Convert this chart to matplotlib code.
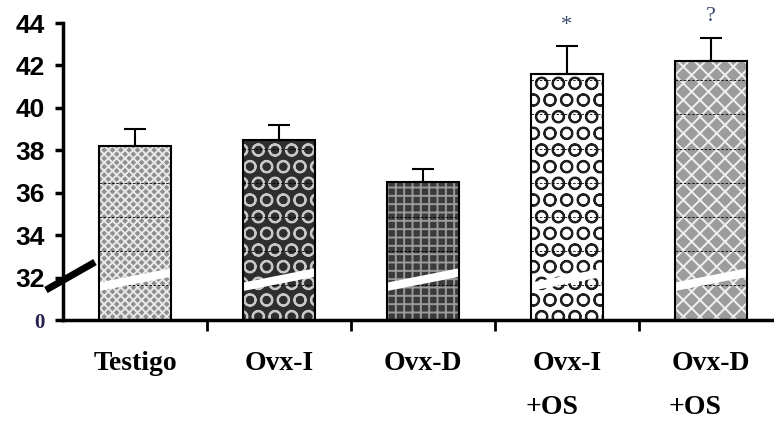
import matplotlib.pyplot as plt
import numpy as np

# data (display scale: the axis is broken, 0 sits at 30)
groups = ["Testigo", "Ovx-I", "Ovx-D", "Ovx-I\n+OS", "Ovx-D\n+OS"]
values = [38.2, 38.5, 36.5, 41.6, 42.2]
errors = [0.8, 0.7, 0.6, 1.3, 1.1]
marks = ["", "", "", "*", "?"]
ytick_vals = [30, 32, 34, 36, 38, 40, 42, 44]
ytick_labels = ["0", "32", "34", "36", "38", "40", "42", "44"]

faces = ["#8e8e8e", "#2e2e2e", "#3a3a3a", "#ffffff", "#9c9c9c"]
hatch_cols = ["#e8e8e8", "#c8c8c8", "#9a9a9a", "#202020", "#f0f0f0"]
hatches = ["xxxx", "O", "++", "O", "/\\/\\"]

plt.rcParams["hatch.linewidth"] = 1.4

fig = plt.figure(figsize=(7.74, 4.22), dpi=100)
ax = fig.add_axes([63 / 774, 102 / 422, 711 / 774, 297 / 422])

x = np.arange(len(groups))
w = 0.5
base = 30

# filled + hatched bars, then outline on top
for i in range(len(groups)):
    ax.bar(x[i], values[i] - base, bottom=base, width=w, color=faces[i],
           edgecolor=hatch_cols[i], hatch=hatches[i], linewidth=0, zorder=2)
    # faint dashed lines inside the bars
    lv = np.arange(31.64, values[i] - 0.3, 1.61)
    ax.hlines(lv, x[i] - w / 2, x[i] + w / 2, colors="black",
              linestyles=(0, (3, 2)), linewidth=0.6, zorder=3)
    # white break band
    xl, xr = x[i] - w / 2 - 0.01, x[i] + w / 2 + 0.01
    ax.fill([xl, xr, xr, xl], [31.35, 32.05, 32.45, 31.75], color="white",
            lw=0, zorder=4)

ax.bar(x, np.array(values) - base, bottom=base, width=w, fill=False,
       edgecolor="black", linewidth=1.5, zorder=5)
ax.errorbar(x, values, yerr=[np.zeros(len(errors)), errors], fmt="none",
            ecolor="black", elinewidth=1.5, capsize=8, capthick=1.5, zorder=5)

for i, m in enumerate(marks):
    if m:
        ax.text(x[i], values[i] + errors[i] + 0.55, m, ha="center", va="bottom",
                fontsize=16, family="Liberation Serif", color="#3a4a6a")

ax.set_ylim(30, 44)
ax.set_xlim(-0.5, 4.44)
ax.set_yticks(ytick_vals)
ax.set_yticklabels(ytick_labels, family="Liberation Sans", fontsize=19,
                   weight="bold")
zero = ax.get_yticklabels()[0]
zero.set_family("Liberation Serif")
zero.set_fontsize(15)
zero.set_color("#2a2050")

ax.set_xticks(x[:-1] + 0.5)
ax.set_xticklabels([])
ax.tick_params(axis="y", direction="out", length=6, width=2.5, pad=7)
ax.tick_params(axis="x", direction="out", length=8, width=2)

# category labels, second line left-aligned under the first
for i, g in enumerate(groups):
    lines = g.split("\n")
    ax.text(x[i], -0.145, lines[0], transform=ax.get_xaxis_transform(),
            ha="center", va="center", family="Liberation Serif",
            weight="bold", fontsize=20)
    if len(lines) > 1:
        ax.text(x[i] - 0.29, -0.296, lines[1],
                transform=ax.get_xaxis_transform(), ha="left",
                va="center", family="Liberation Serif", weight="bold",
                fontsize=20)

for s in ["top", "right"]:
    ax.spines[s].set_visible(False)
ax.spines["left"].set_linewidth(2.5)
ax.spines["bottom"].set_linewidth(2.5)

# axis break slash
ax.plot([-0.024, 0.045], [0.101, 0.195], transform=ax.transAxes,
        color="black", lw=5, clip_on=False, zorder=6, solid_capstyle="butt")

fig.savefig("out.png", dpi=100)
